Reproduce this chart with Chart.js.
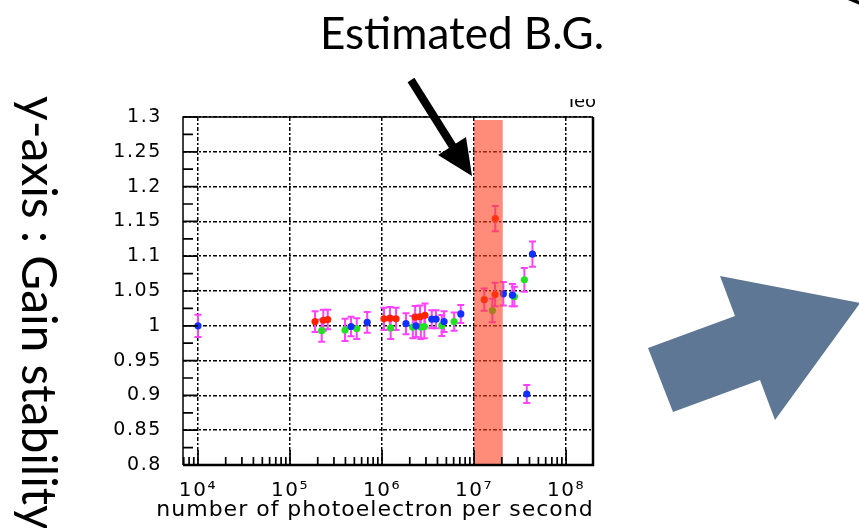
<!DOCTYPE html>
<html><head><meta charset="utf-8">
<script src="https://cdn.jsdelivr.net/npm/chart.js@4.4.0/dist/chart.umd.min.js"></script>
<style>html,body{margin:0;padding:0;background:#fff;overflow:hidden}canvas{display:block}</style>
</head><body>
<canvas id="c" width="859" height="528"></canvas>
<script>
// ---- data ----
const xTickValues = [1e4, 1e5, 1e6, 1e7, 1e8];
const yTickValues = [0.8, 0.85, 0.9, 0.95, 1.0, 1.05, 1.1, 1.15, 1.2, 1.25, 1.3];
const xRange = [6870, 1.96e8];
const yRange = [0.8, 1.3];

const blueX   = [1.0e4, 4.6e5, 6.9e5, 1.82e6, 2.34e6, 3.47e6, 3.86e6, 4.72e6, 7.17e6, 2.08e7, 2.61e7, 3.74e7, 4.31e7];
const blueY   = [1.000, 0.999, 1.005, 1.003, 1.000, 1.0095, 1.0095, 1.006, 1.017, 1.046, 1.044, 0.902, 1.103];
const blueErr = [0.016, 0.014, 0.015, 0.015, 0.016, 0.013, 0.013, 0.015, 0.013, 0.017, 0.016, 0.013, 0.018];

const redX   = [1.87e5, 2.30e5, 2.57e5, 1.05e6, 1.22e6, 1.42e6, 2.29e6, 2.59e6, 2.93e6, 1.29e7, 1.69e7, 1.70e7];
const redY   = [1.006, 1.008, 1.009, 1.010, 1.011, 1.010, 1.0125, 1.013, 1.015, 1.0375, 1.045, 1.154];
const redErr = [0.015, 0.015, 0.014, 0.016, 0.016, 0.016, 0.016, 0.016, 0.017, 0.016, 0.017, 0.018];

const greenX   = [2.21e5, 3.96e5, 5.31e5, 1.24e6, 2.16e6, 2.64e6, 2.88e6, 4.46e6, 6.07e6, 1.58e7, 2.74e7, 3.52e7];
const greenY   = [0.993, 0.994, 0.996, 0.997, 0.998, 0.998, 0.999, 1.0005, 1.006, 1.022, 1.042, 1.066];
const greenErr = [0.016, 0.016, 0.015, 0.016, 0.016, 0.017, 0.017, 0.015, 0.013, 0.017, 0.014, 0.017];

const bgBand = [1.0e7, 2.05e7];   // estimated background region (x)
const bgBandTop = 1.2957;

const titleText = 'Estimated B.G.';
const sideLabel = 'y-axis : Gain stability';
const xTitle = 'number of photoelectron per second';

// ---- styles ----
const C_RED = '#ff2200', C_GREEN = '#22e022', C_BLUE = '#1030ff', C_ERR = '#ff40ff';
const sup = {4:'\u2074',5:'\u2075',6:'\u2076',7:'\u2077',8:'\u2078'};

const series = [
  {x: blueX, y: blueY, e: blueErr, c: C_BLUE, label: 'blue'},
  {x: redX, y: redY, e: redErr, c: C_RED, label: 'red'},
  {x: greenX, y: greenY, e: greenErr, c: C_GREEN, label: 'green'}
];

const deco = {
  id: 'deco',
  beforeDraw(chart) {
    // the reference's axis font is wide: widen the tick labels a little
    chart.ctx.letterSpacing = '1.6px';
  },
  beforeDatasetsDraw(chart) {
    const {ctx, scales: {x, y}} = chart;
    ctx.save();
    ctx.strokeStyle = C_ERR; ctx.lineWidth = 2;
    series.forEach(s => s.x.forEach((xv, i) => {
      const px = x.getPixelForValue(xv);
      const p1 = y.getPixelForValue(s.y[i] - s.e[i]);
      const p2 = y.getPixelForValue(s.y[i] + s.e[i]);
      ctx.beginPath();
      ctx.moveTo(px, p1); ctx.lineTo(px, p2);
      ctx.moveTo(px - 3.5, p1); ctx.lineTo(px + 3.5, p1);
      ctx.moveTo(px - 3.5, p2); ctx.lineTo(px + 3.5, p2);
      ctx.stroke();
    }));
    ctx.restore();
  },
  afterDatasetsDraw(chart) {
    const {ctx, chartArea: a, scales: {x, y}} = chart;
    ctx.save();
    // background band
    const bx1 = x.getPixelForValue(bgBand[0]), bx2 = x.getPixelForValue(bgBand[1]);
    const by = y.getPixelForValue(bgBandTop);
    ctx.fillStyle = 'rgba(255,63,30,0.6)';
    ctx.fillRect(bx1, by, bx2 - bx1, a.bottom - by);
    // minor / major ticks inside the frame
    ctx.strokeStyle = '#000'; ctx.lineWidth = 1.7;
    ctx.beginPath();
    for (let d = 3; d <= 8; d++) {
      for (let k = 1; k <= 9; k++) {
        const v = k * Math.pow(10, d);
        if (v < xRange[0] || v > xRange[1]) continue;
        const px = x.getPixelForValue(v);
        const len = k === 1 ? 15 : 8;
        ctx.moveTo(px, a.bottom); ctx.lineTo(px, a.bottom - len);
      }
    }
    for (let i = 0; i < yTickValues.length; i++) {
      const py = y.getPixelForValue(yTickValues[i]);
      ctx.moveTo(a.left, py); ctx.lineTo(a.left + 15, py);
      if (i < yTickValues.length - 1) {
        const pm = y.getPixelForValue((yTickValues[i] + yTickValues[i + 1]) / 2);
        ctx.moveTo(a.left, pm); ctx.lineTo(a.left + 10, pm);
      }
    }
    ctx.stroke();
    // frame
    ctx.lineWidth = 1.5;
    ctx.beginPath();
    ctx.moveTo(a.left, a.bottom); ctx.lineTo(a.left, a.top); ctx.lineTo(a.right, a.top);
    ctx.stroke();
    ctx.lineWidth = 2.5;
    ctx.beginPath();
    ctx.moveTo(a.right, a.top); ctx.lineTo(a.right, a.bottom); ctx.lineTo(a.left, a.bottom);
    ctx.stroke();
    ctx.restore();
  },
  afterDraw(chart) {
    const {ctx} = chart;
    ctx.save();
    ctx.fillStyle = '#000';
    // x-axis title (wider than the plot area in the reference)
    ctx.letterSpacing = '1px';
    ctx.font = '22px "DejaVu Sans"';
    ctx.textAlign = 'center';
    ctx.textBaseline = 'alphabetic';
    ctx.fillText(xTitle, 375, 516);
    ctx.letterSpacing = '0px';
    // title
    ctx.font = '44px Lato';
    ctx.textAlign = 'left';
    ctx.fillText(titleText, 320, 49, 288);
    // side label rotated
    ctx.save();
    ctx.translate(22, 96);
    ctx.rotate(Math.PI / 2);
    ctx.font = '48px Lato';
    ctx.fillText(sideLabel, 0, 0);
    ctx.restore();
    // partial rotated text in the top-right corner
    ctx.save();
    ctx.translate(846, -14);
    ctx.rotate(Math.PI / 2);
    ctx.font = '46px Lato';
    ctx.fillText('y', 0, 0);
    ctx.restore();
    // partial "Teo" label
    ctx.save();
    ctx.beginPath(); ctx.rect(555, 99, 60, 12); ctx.clip();
    ctx.font = '18px "DejaVu Sans"';
    ctx.fillText('Teo', 566, 107);
    ctx.restore();
    // black arrow
    ctx.strokeStyle = '#000'; ctx.lineWidth = 8; ctx.lineCap = 'butt';
    ctx.beginPath(); ctx.moveTo(411, 80); ctx.lineTo(455, 150); ctx.stroke();
    ctx.beginPath();
    ctx.moveTo(438, 155); ctx.lineTo(472, 176); ctx.lineTo(466, 137); ctx.closePath(); ctx.fill();
    // big grey-blue arrow
    ctx.fillStyle = '#5e7794';
    ctx.beginPath();
    ctx.moveTo(648, 348); ctx.lineTo(735, 316); ctx.lineTo(720, 276); ctx.lineTo(860, 303);
    ctx.lineTo(775, 420); ctx.lineTo(760, 380); ctx.lineTo(673, 412); ctx.closePath();
    ctx.fill();
    ctx.restore();
  }
};

new Chart(document.getElementById('c'), {
  type: 'scatter',
  data: {
    datasets: series.map(s => ({
      label: s.label,
      data: s.x.map((xv, i) => ({x: xv, y: s.y[i]})),
      backgroundColor: s.c, borderColor: s.c, borderWidth: 0,
      pointRadius: 3.6, showLine: false
    }))
  },
  options: {
    responsive: false, animation: false, devicePixelRatio: 1,
    layout: {padding: {left: 100, right: 266, top: 117, bottom: 0}},
    plugins: {legend: {display: false}, tooltip: {enabled: false}},
    scales: {
      x: {
        type: 'logarithmic', min: xRange[0], max: xRange[1],
        afterBuildTicks: s => { s.ticks = xTickValues.map(v => ({value: v})); },
        afterFit: s => { s.height = 63; },
        grid: {color: '#000', lineWidth: 1.5, drawTicks: false},
        border: {display: false, dash: [4, 2, 2, 2]},
        ticks: {
          color: '#000', padding: 14, maxRotation: 0, autoSkip: false,
          font: {family: 'DejaVu Sans', size: 20},
          callback: v => '10' + sup[Math.round(Math.log10(v))]
        },
        title: {display: false, text: xTitle}
      },
      y: {
        min: yRange[0], max: yRange[1],
        afterBuildTicks: s => { s.ticks = yTickValues.map(v => ({value: v})); },
        afterFit: s => { s.width = 83; },
        grid: {color: '#000', lineWidth: 1.5, drawTicks: false},
        border: {display: false, dash: [4, 2, 2, 2]},
        ticks: {
          color: '#000', padding: 21, autoSkip: false,
          font: {family: 'DejaVu Sans', size: 19},
          callback: v => String(+v.toFixed(2))
        }
      }
    }
  },
  plugins: [deco]
});
</script>
</body></html>
